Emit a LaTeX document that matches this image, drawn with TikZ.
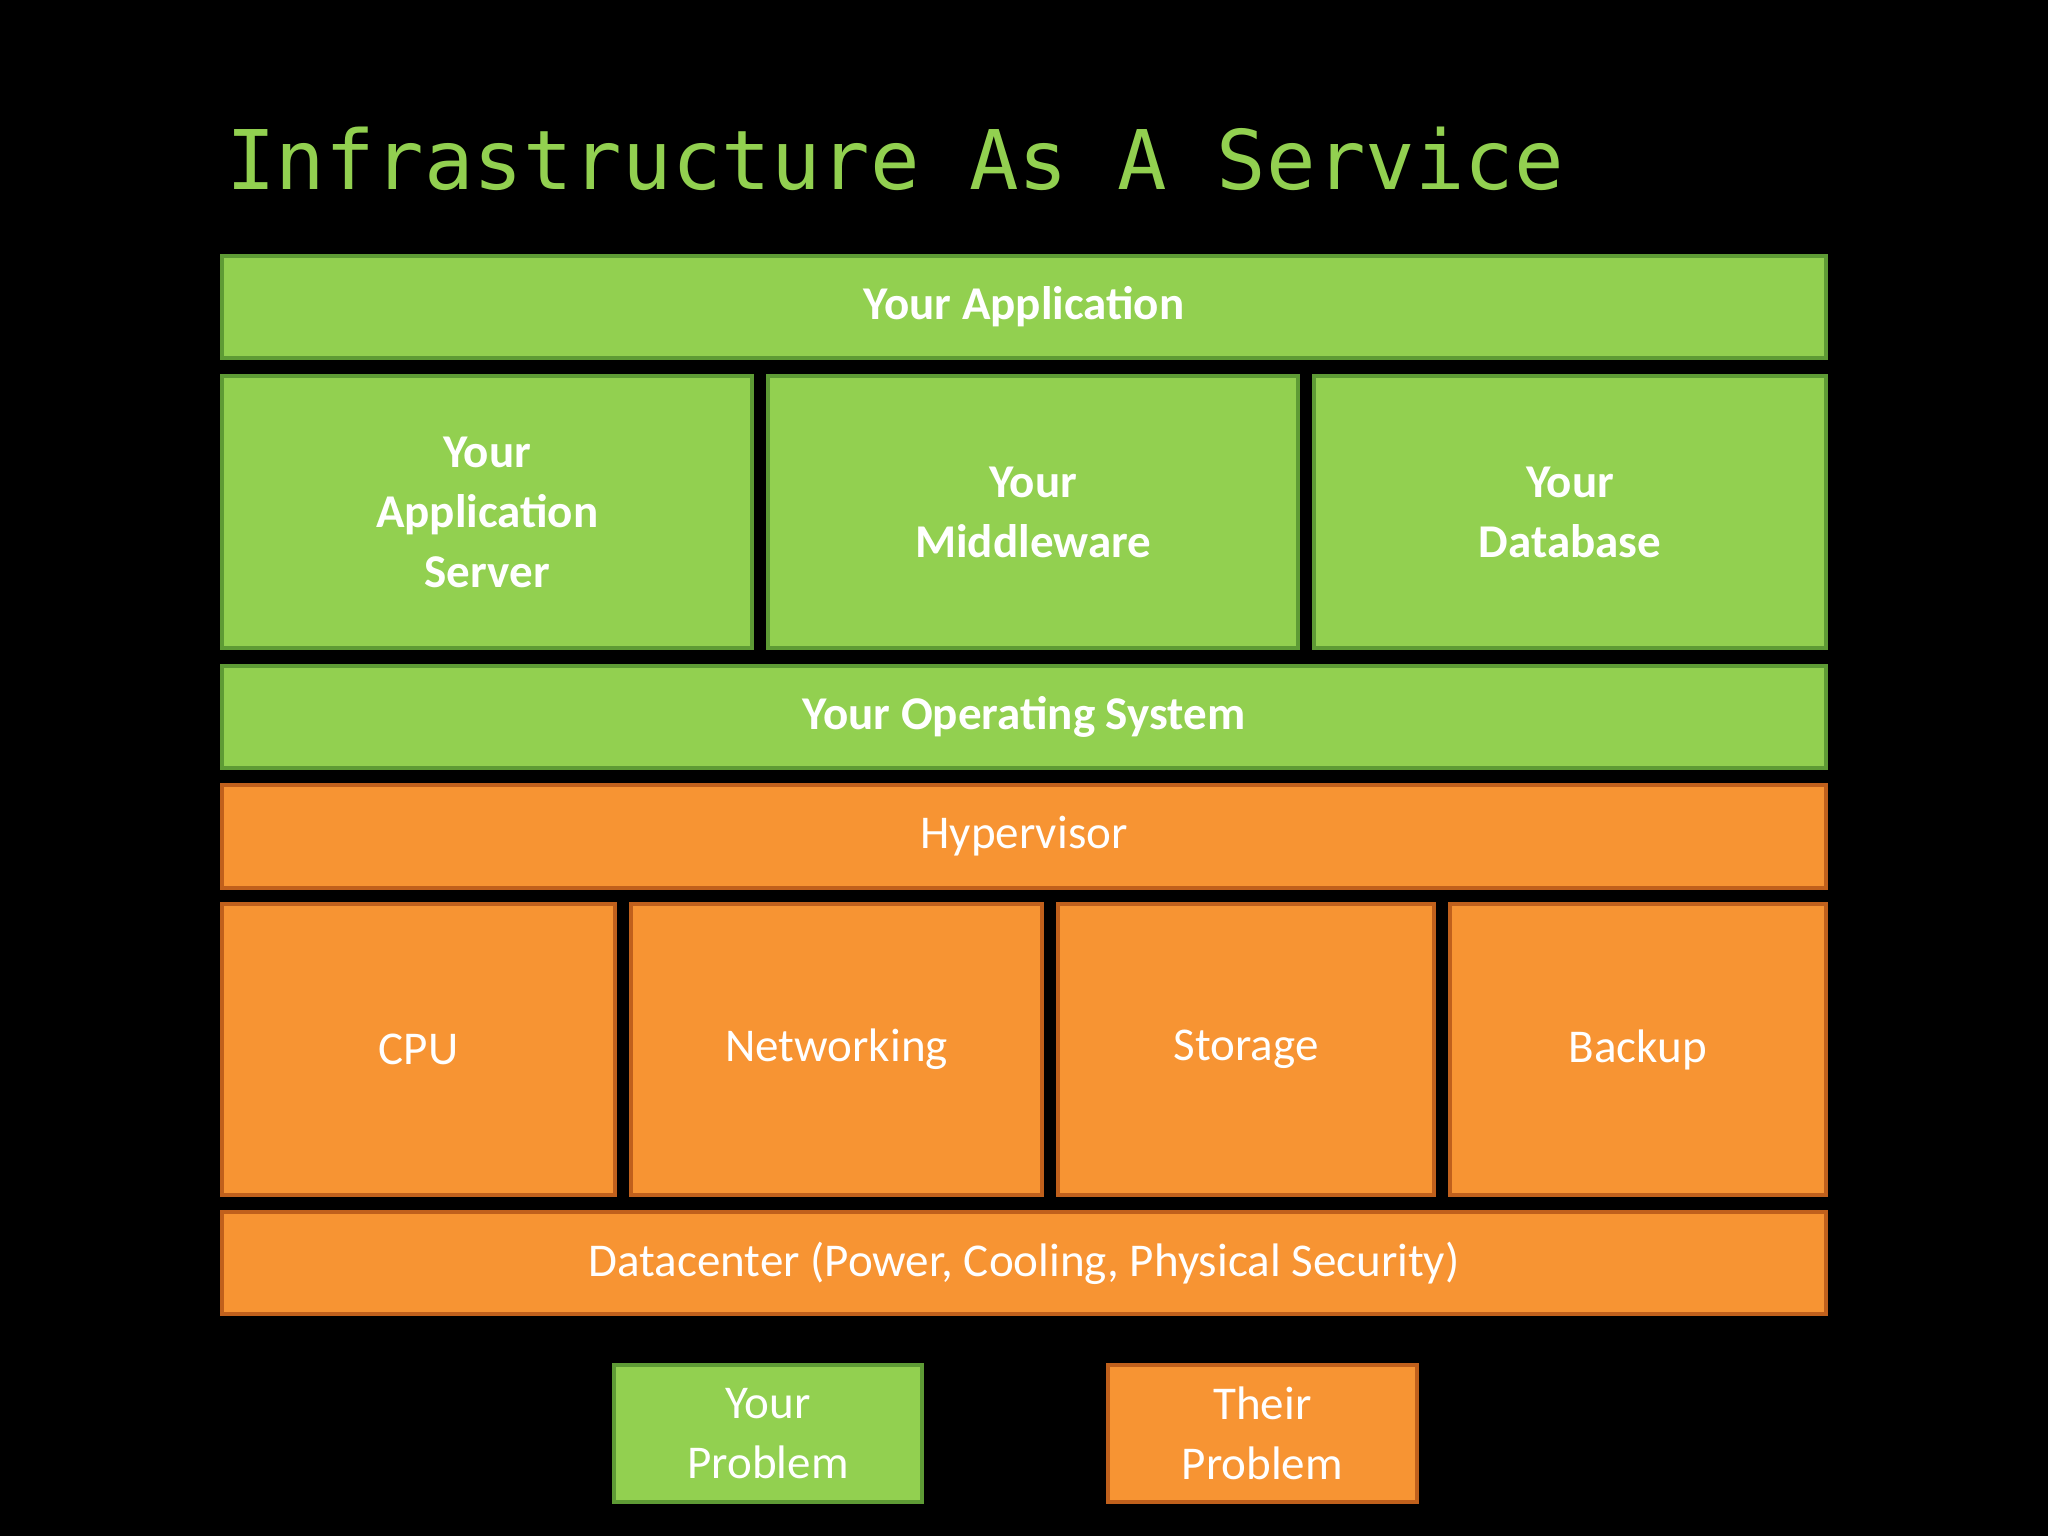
\documentclass[tikz,border=0pt]{standalone}
\usepackage{fontspec}
\setmainfont{Carlito}
\newfontfamily\monof{DejaVu Sans Mono}
\definecolor{gfill}{HTML}{92D050}
\definecolor{gline}{HTML}{5E9B35}
\definecolor{ofill}{HTML}{F79433}
\definecolor{oline}{HTML}{C0601C}
\begin{document}
\begin{tikzpicture}[x=1pt,y=-1pt,
  g/.style={draw=gline,fill=gfill,line width=3pt,text=white,font=\fontsize{36}{46}\selectfont\bfseries,align=center},
  o/.style={draw=oline,fill=ofill,line width=3pt,text=white,font=\fontsize{36}{46}\selectfont,align=center}]
\fill[black] (0,0) rectangle (1568,1176);
\node[anchor=base west,text=gfill,font=\monof\fontsize{63}{63}\selectfont,inner sep=0] (title) at (173,145) {Infrastructure As A Service};
\newcommand{\bx}[6]{\draw[#1] (#3,#4) rectangle (#5,#6) node[midway] (#2) {};}
\draw[g] (170,196) rectangle (1398,274) node[midway] (app) {Your Application};
\draw[g] (170,288) rectangle (576,496) node[midway] (as) {Your\\Application\\Server};
\draw[g] (588,288) rectangle (994,496) node[midway] (mw) {Your\\Middleware};
\draw[g] (1006,288) rectangle (1398,496) node[midway] (db) {Your\\Database};
\draw[g] (170,510) rectangle (1398,588) node[midway] (os) {Your Operating System};
\draw[o] (170,601) rectangle (1398,680) node[midway] (hv) {Hypervisor};
\draw[o] (170,692) rectangle (471,915) node[midway] (cpu) {CPU};
\draw[o] (483,692) rectangle (798,915) node[midway] (net) {Networking};
\draw[o] (810,692) rectangle (1098,915) node[midway] (st) {Storage};
\draw[o] (1110,692) rectangle (1398,915) node[midway] (bk) {Backup};
\draw[o] (170,928) rectangle (1398,1006) node[midway] (dc) {Datacenter (Power, Cooling, Physical Security)};
\draw[g,font=\fontsize{36}{46}\selectfont] (470,1045) rectangle (706,1150) node[midway] (yp) {Your\\Problem};
\draw[o] (848,1045) rectangle (1085,1150) node[midway] (tp) {Their\\Problem};
\end{tikzpicture}
\end{document}
